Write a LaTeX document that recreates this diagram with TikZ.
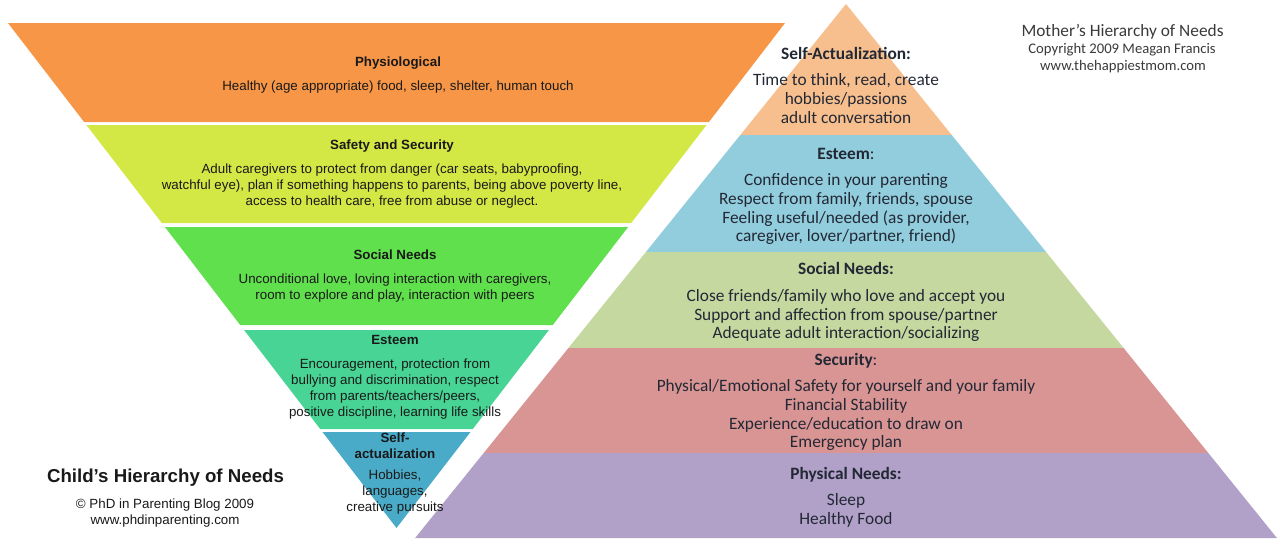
\documentclass[tikz,border=0pt]{standalone}
\usepackage{fontspec}
\setmainfont{Liberation Sans}
\newfontfamily\momfont{Carlito}
\usepackage{xcolor}
\definecolor{Carrot}{HTML}{F69646}
\definecolor{Pear}{HTML}{D4E845}
\definecolor{Harlequin}{HTML}{60E04C}
\definecolor{Shamrock}{HTML}{48D494}
\definecolor{Boston}{HTML}{4AABC8}
\definecolor{Apricot}{HTML}{F8BF8E}
\definecolor{Sky}{HTML}{92CDDD}
\definecolor{Sage}{HTML}{C4D8A0}
\definecolor{Rose}{HTML}{D99594}
\definecolor{Lavender}{HTML}{B1A0C8}
\definecolor{Ink}{HTML}{232835}
\definecolor{Slate}{HTML}{3A3A3A}
\newcommand{\hd}[1]{\textbf{#1}}

\begin{document}
\begin{tikzpicture}[x=0.75pt,y=-0.75pt,
    kidtext/.style={align=center,inner sep=0pt,text=black!90,font=\fontsize{10}{12}\selectfont},
    momtext/.style={align=center,inner sep=0pt,text=Ink,font=\momfont\fontsize{13}{14}\selectfont},
    signtext/.style={inner sep=0pt,text=Slate,font=\momfont\fontsize{11}{13}\selectfont}]
    \useasboundingbox (0,0) rectangle (1284,547);

    \fill[Apricot] (846,4) -- (951.7,135) -- (740.3,135) -- cycle;
    \fill[Sky] (740.3,135) -- (951.7,135) -- (1046.1,252) -- (645.9,252) -- cycle;
    \fill[Sage] (645.9,252) -- (1046.1,252) -- (1123.6,348) -- (568.4,348) -- cycle;
    \fill[Rose] (568.4,348) -- (1123.6,348) -- (1208.3,453) -- (483.7,453) -- cycle;
    \fill[Lavender] (483.7,453) -- (1208.3,453) -- (1276.9,538) -- (415.1,538) -- cycle;

    \fill[Carrot] (8,23) -- (785,23) -- (708.9,122) -- (84.1,122) -- cycle;
    \fill[Pear] (86.4,125) -- (706.6,125) -- (631.2,223) -- (161.8,223) -- cycle;
    \fill[Harlequin] (164.9,227) -- (628.1,227) -- (552.8,325) -- (240.2,325) -- cycle;
    \fill[Shamrock] (244.1,330) -- (548.9,330) -- (472.8,429) -- (320.2,429) -- cycle;
    \fill[Boston] (322.5,432) -- (470.5,432) -- (396.5,528) -- cycle;

    \node[kidtext] (phys) at (398,75.3) {\hd{Physiological}\\[6pt]
        Healthy (age appropriate) food, sleep, shelter, human touch};
    \node[kidtext] (safety) at (392,174) {\hd{Safety and Security}\\[6pt]
        Adult caregivers to protect from danger (car seats, babyproofing,\\
        watchful eye), plan if something happens to parents, being above poverty line,\\
        access to health care, free from abuse or neglect.};
    \node[kidtext] (social) at (395,275.9) {\hd{Social Needs}\\[6pt]
        Unconditional love, loving interaction with caregivers,\\
        room to explore and play, interaction with peers};
    \node[kidtext] (esteem) at (395,377.7) {\hd{Esteem}\\[6pt]
        Encouragement, protection from\\
        bullying and discrimination, respect\\
        from parents/teachers/peers,\\
        positive discipline, learning life skills};
    \node[kidtext] (selfact) at (395,473.7) {\hd{Self-}\\ \hd{actualization}\\[3.5pt]
        Hobbies,\\ languages,\\ creative pursuits};

    \node[kidtext,font=\bfseries\fontsize{14}{16}\selectfont] (kidtitle) at (165.5,477.3) {Child’s Hierarchy of Needs};
    \node[kidtext] (kidcopy) at (165,513) {© PhD in Parenting Blog 2009\\ www.phdinparenting.com};

    \node[momtext] (mself) at (846,85) {\hd{Self-Actualization:}\\[6pt]
        Time to think, read, create\\ hobbies/passions\\ adult conversation};
    \node[momtext] (mesteem) at (846,196.5) {\hd{Esteem}:\\[6pt]
        Confidence in your parenting\\ Respect from family, friends, spouse\\
        Feeling useful/needed (as provider,\\ caregiver, lover/partner, friend)};
    \node[momtext] (msocial) at (846,302.3) {\hd{Social Needs:}\\[6pt]
        Close friends/family who love and accept you\\
        Support and affection from spouse/partner\\
        Adequate adult interaction/socializing};
    \node[momtext] (msecurity) at (846,401.8) {\hd{Security}:\\[6pt]
        Physical/Emotional Safety for yourself and your family\\
        Financial Stability\\ Experience/education to draw on\\ Emergency plan};
    \node[momtext] (mphys) at (846,497.2) {\hd{Physical Needs:}\\[6pt]
        Sleep\\ Healthy Food};

    \node[signtext,font=\momfont\fontsize{13}{15}\selectfont] (momtitle) at (1122.5,32) {Mother’s Hierarchy of Needs};
    \node[signtext] (momcopy) at (1122,50) {Copyright 2009 Meagan Francis};
    \node[signtext] (momweb) at (1123,67) {www.thehappiestmom.com};
\end{tikzpicture}
\end{document}
